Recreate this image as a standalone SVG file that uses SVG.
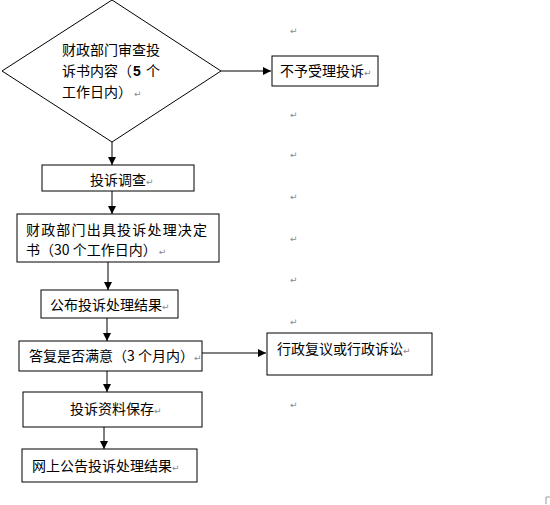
<svg xmlns="http://www.w3.org/2000/svg" width="550" height="505" viewBox="0 0 550 505">
<defs>
<style>
.n{fill:#fff;stroke:#000;stroke-width:1}
.t{font-family:"Noto Sans CJK SC","Liberation Sans",sans-serif;font-size:14px;fill:#000}
.r{font-family:"DejaVu Sans",sans-serif;font-size:9px;fill:#888}
.c{stroke:#000;stroke-width:1;fill:none}
</style>
<marker id="ah" viewBox="0 0 10 10" refX="10" refY="5" markerWidth="8" markerHeight="8" markerUnits="userSpaceOnUse" orient="auto">
<path d="M0,0L10,5L0,10z" fill="#000"/>
</marker>
</defs>
<rect width="550" height="505" fill="#fff"/>
<g id="connectors">
<path class="c" d="M221,71H271" marker-end="url(#ah)"/>
<path class="c" d="M112,142V165" marker-end="url(#ah)"/>
<path class="c" d="M112,191V214" marker-end="url(#ah)"/>
<path class="c" d="M108,262V290" marker-end="url(#ah)"/>
<path class="c" d="M107,318V341" marker-end="url(#ah)"/>
<path class="c" d="M202,353H266" marker-end="url(#ah)"/>
<path class="c" d="M107,371V392" marker-end="url(#ah)"/>
<path class="c" d="M104,427V449" marker-end="url(#ah)"/>
</g>
<g id="review">
<polygon class="n" points="112,0 221,71 112,142 2,71"/>
<text class="t" x="62" y="54.5">财政部门审查投</text>
<text class="t" y="75.5"><tspan x="62">诉书内容（</tspan><tspan x="133" font-weight="bold" font-family="Liberation Sans,sans-serif">5</tspan><tspan x="146">个</tspan></text>
<text class="t" x="62" y="96.5">工作日内）<tspan class="r" dx="2">↵</tspan></text>
</g>
<g id="reject">
<rect class="n" x="272" y="56" width="106" height="30"/>
<text class="t" x="280" y="76">不予受理投诉<tspan class="r">↵</tspan></text>
</g>
<g id="investigate">
<rect class="n" x="42" y="165" width="152" height="26"/>
<text class="t" x="90" y="184.5">投诉调查<tspan class="r">↵</tspan></text>
</g>
<g id="decision">
<rect class="n" x="17" y="214" width="202" height="48"/>
<text class="t" x="26" y="235" textLength="181" lengthAdjust="spacing">财政部门出具投诉处理决定</text>
<text class="t" x="26" y="255">书（30 个工作日内）<tspan class="r" dx="2">↵</tspan></text>
</g>
<g id="publish">
<rect class="n" x="41" y="290" width="137" height="28"/>
<text class="t" x="50" y="310">公布投诉处理结果<tspan class="r">↵</tspan></text>
</g>
<g id="satisfied">
<rect class="n" x="19" y="341" width="183" height="30"/>
<text class="t" x="29" y="360.5">答复是否满意（3 个月内）<tspan class="r">↵</tspan></text>
</g>
<g id="appeal">
<rect class="n" x="267" y="333" width="165" height="42"/>
<text class="t" x="277" y="354">行政复议或行政诉讼<tspan class="r">↵</tspan></text>
</g>
<g id="archive">
<rect class="n" x="23" y="392" width="179" height="35"/>
<text class="t" x="70" y="413.5">投诉资料保存<tspan class="r">↵</tspan></text>
</g>
<g id="online">
<rect class="n" x="22" y="449" width="175" height="33"/>
<text class="t" x="32" y="470.5">网上公告投诉处理结果<tspan class="r">↵</tspan></text>
</g>
<g id="marks">
<text class="r" x="290" y="34">↵</text>
<text class="r" x="290" y="118">↵</text>
<text class="r" x="290" y="158">↵</text>
<text class="r" x="290" y="200">↵</text>
<text class="r" x="290" y="242">↵</text>
<text class="r" x="290" y="283">↵</text>
<text class="r" x="290" y="325">↵</text>
<text class="r" x="290" y="408">↵</text>
<path d="M546,504V497H550" stroke="#999" fill="none"/>
</g>
</svg>
